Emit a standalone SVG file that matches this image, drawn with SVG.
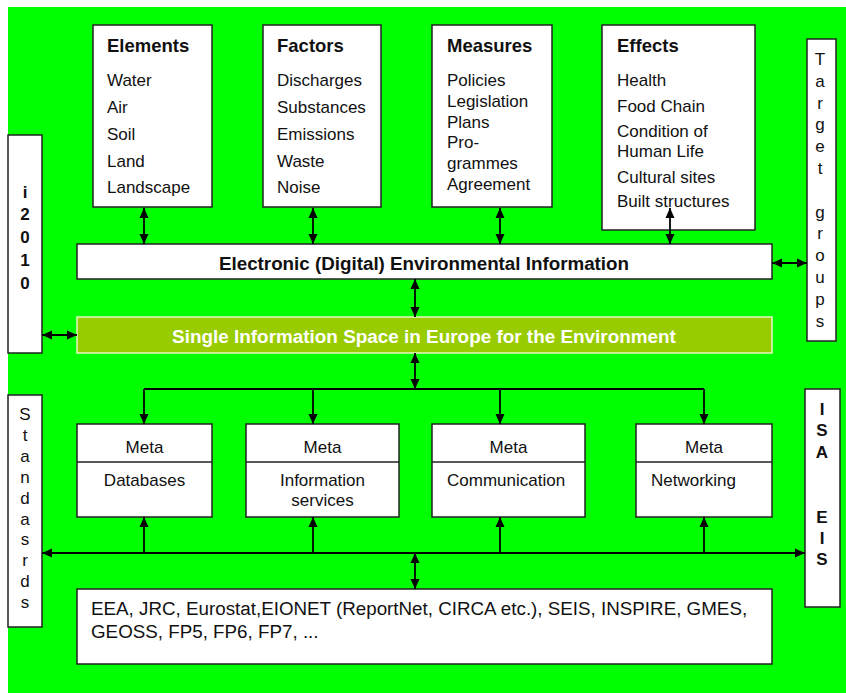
<svg xmlns="http://www.w3.org/2000/svg" width="846" height="693" viewBox="0 0 846 693">
<style>
text{font-family:"Liberation Sans",Arial,sans-serif;fill:#111;}
.box{fill:#fff;stroke:#222;stroke-width:1.5;}
.h{font-size:18.5px;font-weight:bold;}
.i{font-size:17px;}
.b{font-weight:bold;}
.c{text-anchor:middle;}
.ln{fill:none;stroke:#000;stroke-width:1.8;}
</style>
<defs>
<marker id="ah" viewBox="0 0 10 10" refX="10" refY="5" markerWidth="10" markerHeight="10" markerUnits="userSpaceOnUse" orient="auto-start-reverse">
<path d="M0,0.5 L10,5 L0,9.5 z" fill="#000"/>
</marker>
</defs>
<rect x="0" y="0" width="846" height="693" fill="#fff"/>
<rect x="8" y="7" width="838" height="686" fill="#00ff00"/>

<g id="elements">
<rect class="box" x="93" y="25" width="119" height="182"/>
<text class="h" x="107" y="52">Elements</text>
<text class="i" x="107" y="86">Water</text>
<text class="i" x="107" y="113">Air</text>
<text class="i" x="107" y="140">Soil</text>
<text class="i" x="107" y="167">Land</text>
<text class="i" x="107" y="193">Landscape</text>
</g>
<g id="factors">
<rect class="box" x="263" y="25" width="118" height="182"/>
<text class="h" x="277" y="52">Factors</text>
<text class="i" x="277" y="86">Discharges</text>
<text class="i" x="277" y="113">Substances</text>
<text class="i" x="277" y="140">Emissions</text>
<text class="i" x="277" y="167">Waste</text>
<text class="i" x="277" y="193">Noise</text>
</g>
<g id="measures">
<rect class="box" x="432" y="25" width="120" height="182"/>
<text class="h" x="447" y="52">Measures</text>
<text class="i" x="447" y="86">Policies</text>
<text class="i" x="447" y="107">Legislation</text>
<text class="i" x="447" y="128">Plans</text>
<text class="i" x="447" y="148">Pro-</text>
<text class="i" x="447" y="169">grammes</text>
<text class="i" x="447" y="190">Agreement</text>
</g>
<g id="effects">
<rect class="box" x="602" y="25" width="153" height="205"/>
<text class="h" x="617" y="52">Effects</text>
<text class="i" x="617" y="86">Health</text>
<text class="i" x="617" y="112">Food Chain</text>
<text class="i" x="617" y="137">Condition of</text>
<text class="i" x="617" y="157">Human Life</text>
<text class="i" x="617" y="183">Cultural sites</text>
<text class="i" x="617" y="207">Built structures</text>
</g>
<g id="target-groups">
<rect class="box" x="807" y="39" width="29" height="302"/>
<g class="i c">
<text x="820" y="65">T</text>
<text x="820" y="87">a</text>
<text x="820" y="109">r</text>
<text x="820" y="130">g</text>
<text x="820" y="152">e</text>
<text x="820" y="174">t</text>
<text x="820" y="218">g</text>
<text x="820" y="239">r</text>
<text x="820" y="261">o</text>
<text x="820" y="283">u</text>
<text x="820" y="305">p</text>
<text x="820" y="327">s</text>
</g>
</g>
<g id="i2010">
<rect class="box" x="8" y="135" width="34" height="218"/>
<g class="i b c">
<text x="25" y="198">i</text>
<text x="25" y="220">2</text>
<text x="25" y="243">0</text>
<text x="25" y="266">1</text>
<text x="25" y="289">0</text>
</g>
</g>
<g id="electronic">
<rect class="box" x="77" y="244" width="695" height="35"/>
<text class="b c" x="424" y="270" font-size="18.8">Electronic (Digital) Environmental Information</text>
</g>
<g id="single-space">
<rect x="77" y="317" width="695" height="36" fill="#99cc00" stroke="#e8f5c8" stroke-width="1.5"/>
<text class="b c" x="424" y="343" font-size="18.9" style="fill:#fff">Single Information Space in Europe for the Environment</text>
</g>
<g id="standards">
<rect class="box" x="8" y="395" width="34" height="232"/>
<g class="i c">
<text x="25" y="420">S</text>
<text x="25" y="441">t</text>
<text x="25" y="462">a</text>
<text x="25" y="483">n</text>
<text x="25" y="504">d</text>
<text x="25" y="525">a</text>
<text x="25" y="545">s</text>
<text x="25" y="566">r</text>
<text x="25" y="587">d</text>
<text x="25" y="608">s</text>
</g>
</g>
<g id="isa-eis">
<rect class="box" x="805" y="389" width="35" height="218"/>
<g class="i b c">
<text x="822" y="415">I</text>
<text x="822" y="436">S</text>
<text x="822" y="458">A</text>
<text x="822" y="523">E</text>
<text x="822" y="544">I</text>
<text x="822" y="565">S</text>
</g>
</g>
<g id="meta-databases">
<rect class="box" x="77" y="424" width="135" height="93"/>
<line x1="77" y1="462" x2="212" y2="462" stroke="#222" stroke-width="1.5"/>
<text class="i c" x="144.5" y="453">Meta</text>
<text class="i c" x="144.5" y="486">Databases</text>
</g>
<g id="meta-information">
<rect class="box" x="246" y="424" width="153" height="93"/>
<line x1="246" y1="462" x2="399" y2="462" stroke="#222" stroke-width="1.5"/>
<text class="i c" x="322.5" y="453">Meta</text>
<text class="i c" x="322.5" y="486">Information</text>
<text class="i c" x="322.5" y="506">services</text>
</g>
<g id="meta-communication">
<rect class="box" x="432" y="424" width="153" height="93"/>
<line x1="432" y1="462" x2="585" y2="462" stroke="#222" stroke-width="1.5"/>
<text class="i c" x="508.5" y="453">Meta</text>
<text class="i" x="447" y="486">Communication</text>
</g>
<g id="meta-networking">
<rect class="box" x="636" y="424" width="136" height="93"/>
<line x1="636" y1="462" x2="772" y2="462" stroke="#222" stroke-width="1.5"/>
<text class="i c" x="704" y="453">Meta</text>
<text class="i" x="651" y="486">Networking</text>
</g>
<g id="organisations">
<rect class="box" x="77" y="589" width="695" height="75"/>
<text x="91" y="615" font-size="18.8">EEA, JRC, Eurostat,EIONET (ReportNet, CIRCA etc.), SEIS, INSPIRE, GMES,</text>
<text x="91" y="638" font-size="18.8">GEOSS, FP5, FP6, FP7, ...</text>
</g>

<g id="connectors" class="ln">
<path d="M144,208 V244" marker-start="url(#ah)" marker-end="url(#ah)"/>
<path d="M313,208 V244" marker-start="url(#ah)" marker-end="url(#ah)"/>
<path d="M500,208 V244" marker-start="url(#ah)" marker-end="url(#ah)"/>
<path d="M670,208 V244" marker-start="url(#ah)" marker-end="url(#ah)"/>
<path d="M772,263 H807" marker-start="url(#ah)" marker-end="url(#ah)"/>
<path d="M42,335 H77" marker-start="url(#ah)" marker-end="url(#ah)"/>
<path d="M415,279 V317" marker-start="url(#ah)" marker-end="url(#ah)"/>
<path d="M415,353 V389" marker-start="url(#ah)" marker-end="url(#ah)"/>
<path d="M144,389 H704"/>
<path d="M144,389 V424" marker-end="url(#ah)"/>
<path d="M313,389 V424" marker-end="url(#ah)"/>
<path d="M500,389 V424" marker-end="url(#ah)"/>
<path d="M704,389 V424" marker-end="url(#ah)"/>
<path d="M42,553 H805" marker-start="url(#ah)" marker-end="url(#ah)"/>
<path d="M144,553 V517" marker-end="url(#ah)"/>
<path d="M313,553 V517" marker-end="url(#ah)"/>
<path d="M500,553 V517" marker-end="url(#ah)"/>
<path d="M704,553 V517" marker-end="url(#ah)"/>
<path d="M415,553 V589" marker-start="url(#ah)" marker-end="url(#ah)"/>
</g>
</svg>
